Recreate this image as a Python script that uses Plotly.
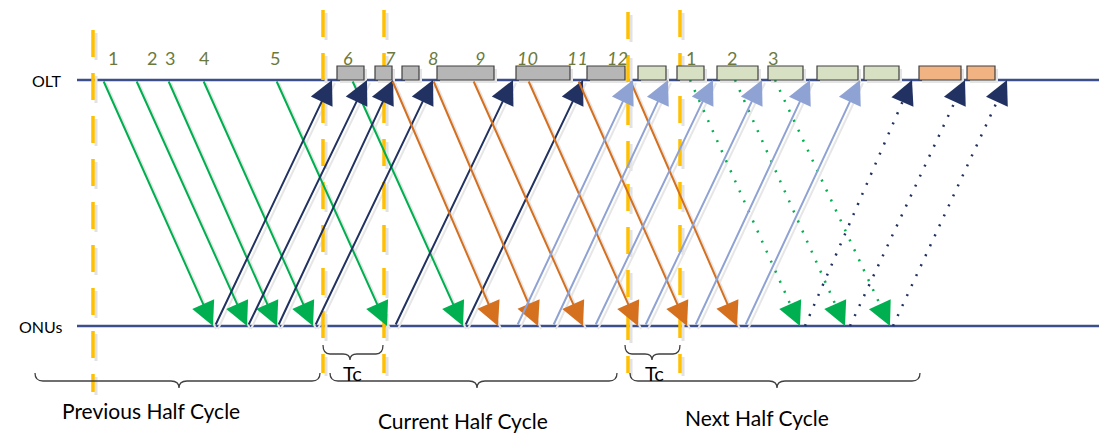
import numpy as np
import plotly.graph_objects as go

W, H = 1099, 434

# ---------------- data (time positions along the OLT / ONU timelines) ----------------
green_tail = [103, 136, 168, 203, 276, 352]
green_head = [213, 247, 277, 313, 387, 463]
navy_tail = [215, 248, 278, 315, 395, 465]
navy_head = [332, 367, 393, 433, 513, 583]
orange_tail = [392, 433, 473, 528, 578, 630]
orange_head = [498, 538, 583, 638, 687, 737]
blue_tail = [517, 553, 595, 645, 695, 745]
blue_head = [633, 668, 713, 762, 810, 860]
green_dot_tail = [690, 735, 775]
green_dot_head = [800, 845, 890]
navy_dot_tail = [805, 850, 893]
navy_dot_head = [912, 965, 1007]

grey_box_start = [337, 375, 402, 437, 516, 587]
grey_box_end = [364, 392, 419, 494, 570, 625]
lgreen_box_start = [638, 677, 717, 768, 817, 864]
lgreen_box_end = [666, 704, 758, 803, 858, 899]
orange_box_start = [919, 967]
orange_box_end = [961, 995]

prev_labels = ["1", "2", "3", "4", "5"]
prev_label_x = [113, 152, 170, 204, 275]
cur_labels = ["6", "7", "8", "9", "10", "11", "12"]
cur_label_x = [348, 390, 433, 480, 527, 577, 617]
next_labels = ["1", "2", "3"]
next_label_x = [691, 732, 773]

boundary_x = [93, 323, 384, 628, 680]
boundary_top = [30, 10, 10, 12, 10]
boundary_bottom = [392, 373, 373, 373, 373]

half_cycle_names = ["Previous Half Cycle", "Current Half Cycle", "Next Half Cycle"]
half_cycle_start = [35, 330, 630]
half_cycle_end = [320, 617, 920]
half_cycle_tip = [179, 477, 777]
tc_start = [323, 625]
tc_end = [383, 680]
tc_tip = [350, 652]

# ---------------- layout constants ----------------
OLT_Y, ONU_Y = 80, 326
LINE_COLOR = "#3C4F8A"
FONT = "Lato"
LABEL_COLOR = "#6B7A3C"

fig = go.Figure()
shapes = []
annotations = []

# timelines
for yy in (OLT_Y, ONU_Y):
    shapes.append(dict(type="line", xref="x", yref="y", x0=77, x1=W, y0=yy, y1=yy,
                       line=dict(color=LINE_COLOR, width=2.5), layer="below"))

# half-cycle boundaries (dashed gold)
for bx, bt, bb in zip(boundary_x, boundary_top, boundary_bottom):
    shapes.append(dict(type="line", xref="x", yref="y", x0=bx + 3, x1=bx + 3, y0=bt + 3, y1=bb + 3,
                       line=dict(color="#E2E2E2", width=3, dash="27px,16px"), layer="below"))
    shapes.append(dict(type="line", xref="x", yref="y", x0=bx, x1=bx, y0=bt, y1=bb,
                       line=dict(color="#FFC000", width=3.5, dash="27px,16px"), layer="above"))


def solid_arrows(tails, heads, tail_y, head_y, color):
    for t, h in zip(tails, heads):
        # soft shadow
        fig.add_trace(go.Scatter(x=[t + 3, h + 3], y=[tail_y + 3, head_y + 3], mode="lines",
                                 line=dict(color="#E6E6E6", width=2), hoverinfo="skip",
                                 showlegend=False))
        annotations.append(dict(x=h, y=head_y, ax=t, ay=tail_y, xref="x", yref="y",
                                axref="x", ayref="y", text="", showarrow=True,
                                arrowhead=2, arrowsize=2.4, arrowwidth=2, arrowcolor=color))


def dotted_arrows(tails, heads, tail_y, head_y, color):
    for t, h in zip(tails, heads):
        fig.add_trace(go.Scatter(x=[t, h], y=[tail_y, head_y], mode="lines",
                                 line=dict(color=color, width=2.5, dash="2px,9px"),
                                 hoverinfo="skip", showlegend=False))
        v = np.array([h - t, head_y - tail_y], dtype=float)
        v /= np.linalg.norm(v)
        bx, by = h - v[0] * 14, head_y - v[1] * 14
        annotations.append(dict(x=h, y=head_y, ax=bx, ay=by, xref="x", yref="y",
                                axref="x", ayref="y", text="", showarrow=True,
                                arrowhead=2, arrowsize=2.4, arrowwidth=2, arrowcolor=color))


solid_arrows(green_tail, green_head, OLT_Y, ONU_Y, "#00B050")
solid_arrows(navy_tail, navy_head, ONU_Y, OLT_Y, "#213262")
solid_arrows(orange_tail, orange_head, OLT_Y, ONU_Y, "#D5701F")
solid_arrows(blue_tail, blue_head, ONU_Y, OLT_Y, "#8FA2D4")
dotted_arrows(green_dot_tail, green_dot_head, OLT_Y, ONU_Y, "#00B050")
dotted_arrows(navy_dot_tail, navy_dot_head, ONU_Y, OLT_Y, "#213262")

# slot boxes on the OLT line
BOX_TOP = 66
for starts, ends, fill in ((grey_box_start, grey_box_end, "#B6B6B6"),
                           (lgreen_box_start, lgreen_box_end, "#D8E0C4"),
                           (orange_box_start, orange_box_end, "#F2B382")):
    for s, e in zip(starts, ends):
        shapes.append(dict(type="rect", xref="x", yref="y", x0=s + 3, x1=e + 3,
                           y0=BOX_TOP + 3, y1=OLT_Y + 3, line=dict(width=0),
                           fillcolor="#E4E4E4", layer="below"))
        shapes.append(dict(type="rect", xref="x", yref="y", x0=s, x1=e, y0=BOX_TOP, y1=OLT_Y,
                           line=dict(color="#404040", width=1.2), fillcolor=fill, layer="above"))

# slot numbers
for labels, xs, italic in ((prev_labels, prev_label_x, False),
                           (cur_labels, cur_label_x, True),
                           (next_labels, next_label_x, False)):
    for lab, lx in zip(labels, xs):
        annotations.append(dict(x=lx, y=58, xref="x", yref="y", text=lab, showarrow=False,
                                font=dict(family=FONT, size=18, color=LABEL_COLOR,
                                          style="italic" if italic else "normal")))

# axis names
annotations.append(dict(x=47, y=OLT_Y, xref="x", yref="y", text="OLT", showarrow=False,
                        font=dict(family=FONT, size=16, color="black")))
annotations.append(dict(x=40, y=ONU_Y, xref="x", yref="y", text="ONUs", showarrow=False,
                        font=dict(family=FONT, size=16, color="black")))


def brace_path(x0, x1, xm, y, up=8, tip=7, r=8):
    return (f"M {x0},{y - up} Q {x0},{y} {x0 + r},{y} L {xm - r},{y} "
            f"Q {xm},{y} {xm},{y + tip} Q {xm},{y} {xm + r},{y} L {x1 - r},{y} "
            f"Q {x1},{y} {x1},{y - up}")


BRACE_Y, TC_Y = 381, 354
for s, e, m in zip(half_cycle_start, half_cycle_end, half_cycle_tip):
    shapes.append(dict(type="path", xref="x", yref="y", path=brace_path(s, e, m, BRACE_Y),
                       line=dict(color="#404040", width=1.3)))
for s, e, m in zip(tc_start, tc_end, tc_tip):
    shapes.append(dict(type="path", xref="x", yref="y", path=brace_path(s, e, m, TC_Y, up=9, tip=6, r=7),
                       line=dict(color="#404040", width=1.3)))
    annotations.append(dict(x=m + 2, y=373, xref="x", yref="y", text="Tc", showarrow=False,
                            font=dict(family=FONT, size=20, color="black")))

name_pos = [(151, 410), (463, 420), (757, 417)]
for name, (nx, ny) in zip(half_cycle_names, name_pos):
    annotations.append(dict(x=nx, y=ny, xref="x", yref="y", text=name, showarrow=False,
                            borderpad=0,
                            font=dict(family=FONT, size=21, color="black")))

fig.update_layout(
    width=W, height=H, margin=dict(l=0, r=0, t=0, b=0),
    paper_bgcolor="white", plot_bgcolor="white", showlegend=False,
    xaxis=dict(range=[0, W], visible=False, fixedrange=True),
    yaxis=dict(range=[H, 0], visible=False, fixedrange=True),
    shapes=shapes, annotations=annotations,
)

fig.write_html("out.html", config={"displayModeBar": False},
               post_script="document.body.style.margin='0';document.body.style.overflow='hidden';")
